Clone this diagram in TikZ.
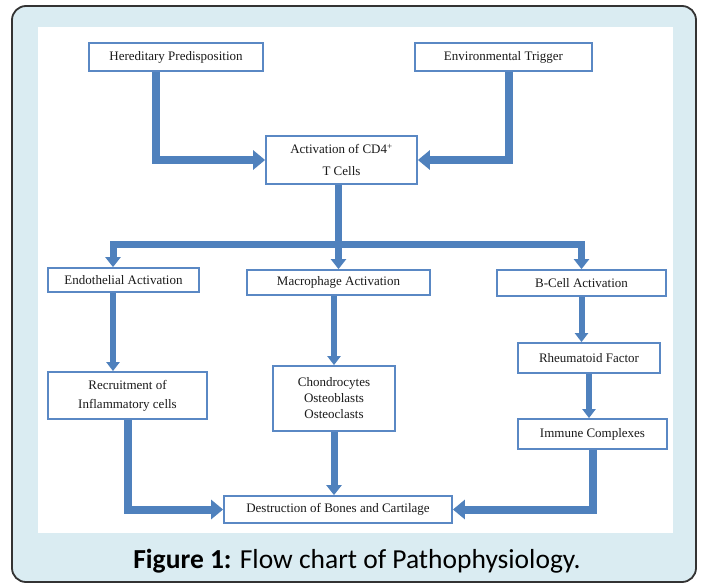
\documentclass[tikz,border=0pt]{standalone}
\usepackage{fontspec}
\setmainfont{Liberation Serif}
\newfontfamily\capfont{Carlito}
\usetikzlibrary{arrows.meta}
\definecolor{bgblue}{HTML}{DAECF2}
\definecolor{arrblue}{HTML}{4F81BD}
\definecolor{boxblue}{HTML}{5A88C4}
\definecolor{framegray}{HTML}{333333}
\definecolor{txtcol}{HTML}{1A1A1A}
\begin{document}
\begin{tikzpicture}[x=1pt,y=-1pt,
  box/.style={draw=boxblue, line width=1.8pt, fill=white, inner sep=0pt, align=center, text=txtcol, font=\fontsize{13}{16}\selectfont},
  bigarr/.style={draw=arrblue, line width=8pt, line join=miter, -{Triangle[width=19pt,length=12pt]}},
  midarr/.style={draw=arrblue, line width=7pt, line join=miter, -{Triangle[width=15pt,length=10pt]}},
  smallarr/.style={draw=arrblue, line width=6pt, line join=miter, -{Triangle[width=13pt,length=9pt]}},
  plainbar/.style={draw=arrblue, line width=7pt, line join=miter}
]
\useasboundingbox (0,0) rectangle (701,584);
\draw[rounded corners=14pt, fill=bgblue, draw=framegray, line width=1.8pt] (12,6) rectangle (696,582);
\fill[white] (38,27) rectangle (673,533);

\node[box, minimum width=174, minimum height=28] (hp) at (176,57) {Hereditary Predisposition};
\node[box, minimum width=177, minimum height=28] (env) at (503.5,57) {Environmental Trigger};
\node[box, minimum width=151, minimum height=48] (cd4) at (341.5,160) {Activation of CD4\textsuperscript{+}\\[6pt]T Cells};
\node[box, minimum width=151, minimum height=24] (endo) at (123.5,280) {Endothelial Activation};
\node[box, minimum width=183, minimum height=25] (macro) at (338.5,282.5) {Macrophage Activation};
\node[box, minimum width=169, minimum height=26] (bcell) at (581.5,283) {B-Cell Activation};
\node[box, minimum width=142, minimum height=30] (rheum) at (589,358) {Rheumatoid Factor};
\node[box, minimum width=149, minimum height=30] (imm) at (592.5,434) {Immune Complexes};
\node[box, minimum width=159, minimum height=47] (recr) at (127.5,395.5) {Recruitment of\\[3pt]Inflammatory cells};
\node[box, minimum width=122, minimum height=65] (chon) at (334,398.5) {Chondrocytes\\Osteoblasts\\Osteoclasts};
\node[box, minimum width=228, minimum height=27] (destr) at (338,509.5) {Destruction of Bones and Cartilage};

\coordinate (jc) at (338.5,244);
\coordinate (jl) at (113,244);

\draw[bigarr] ([xshift=-20.5pt]hp.south) |- (cd4.west);
\draw[bigarr] ([xshift=5.5pt]env.south) |- (cd4.east);
\draw[plainbar] (cd4.south -| macro.north) -- (jc);
\draw[midarr] (jc) -- (macro.north);
\draw[midarr] (jc) -| (endo.north -| jl);
\draw[midarr] (jc) -| (bcell.north);

\draw[smallarr] (endo.south -| jl) -- (recr.north -| jl);
\draw[smallarr] (macro.south -| chon.north) -- (chon.north);
\draw[smallarr] (bcell.south) -- (rheum.north -| bcell.south);
\draw[smallarr] (rheum.south) -- (imm.north -| rheum.south);

\draw[bigarr] (recr.south) |- (destr.west);
\draw[midarr] (chon.south) -- (chon.south |- destr.north);
\draw[bigarr] (imm.south) |- (destr.east);

\node[font=\capfont\fontsize{27.5}{31}\selectfont, anchor=base, text=black] (cap) at (357,568) {\textbf{Figure 1:} Flow chart of Pathophysiology.};
\end{tikzpicture}
\end{document}
